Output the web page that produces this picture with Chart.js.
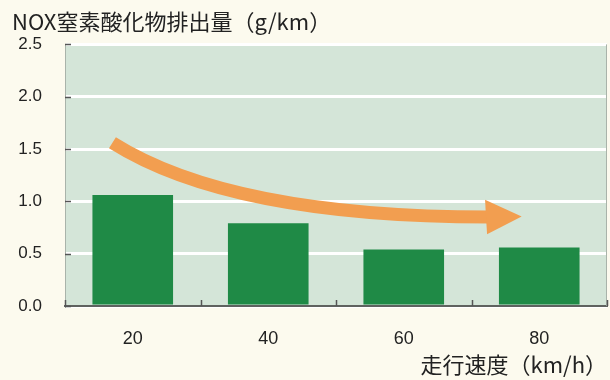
<!DOCTYPE html>
<html>
<head>
<meta charset="utf-8">
<script src="https://cdn.jsdelivr.net/npm/chart.js@4"></script>
<style>
  html, body { margin: 0; padding: 0; background: #fcfaee; }
  #wrap { width: 610px; height: 380px; position: relative; }
</style>
</head>
<body>
<div id="wrap"><canvas id="c"></canvas></div>
<script>
// NOx emission by driving speed
const speeds = ['20', '40', '60', '80'];
const noxEmission = [1.06, 0.79, 0.54, 0.56];
const yTicks = [0, 0.5, 1.0, 1.5, 2.0, 2.5];
const chartTitle = 'NOX窒素酸化物排出量（g/km）';
const speedTitle = '走行速度（km/h）';

// Downward trend arrow, in (category index, value) space
const trendArrow = {
  start: [-0.15, 1.56],
  ctrl: [0.72, 0.85],
  end: [2.60, 0.85],
  tip: [2.87, 0.855],
  headHalf: 0.165
};

const cjkFont = '"Noto Sans CJK JP", "Noto Sans", sans-serif';
const numFont = '"Liberation Sans", Arial, sans-serif';
const textColor = '#222222';

const plotDecor = {
  id: 'plotDecor',
  beforeDraw(chart) {
    const { ctx, chartArea: a } = chart;
    ctx.save();
    ctx.fillStyle = '#d4e5d8';
    ctx.fillRect(a.left, a.top, a.right - a.left, a.bottom - a.top);
    ctx.restore();
  },
  afterDatasetsDraw(chart) {
    const { ctx, chartArea: a, scales: { x, y } } = chart;
    ctx.save();
    // right frame edge
    ctx.strokeStyle = '#a9b3aa';
    ctx.lineWidth = 1;
    ctx.beginPath();
    ctx.moveTo(a.right - 0.5, a.top);
    ctx.lineTo(a.right - 0.5, a.bottom);
    ctx.stroke();
    // inward ticks on the value axis
    ctx.strokeStyle = '#555';
    ctx.lineWidth = 1.5;
    yTicks.forEach(v => {
      const py = Math.round(y.getPixelForValue(v)) + 0.5;
      ctx.beginPath();
      ctx.moveTo(a.left, py);
      ctx.lineTo(a.left + 6, py);
      ctx.stroke();
    });
    // category boundary ticks on the speed axis
    for (let i = 0; i <= speeds.length; i++) {
      const px = Math.round(x.getPixelForValue(i - 0.5)) + 0.5;
      ctx.beginPath();
      ctx.moveTo(px, a.bottom);
      ctx.lineTo(px, a.bottom - 6);
      ctx.stroke();
    }
    // trend arrow
    const P = p => [x.getPixelForValue(p[0]), y.getPixelForValue(p[1])];
    const s = P(trendArrow.start), c = P(trendArrow.ctrl), e = P(trendArrow.end), t = P(trendArrow.tip);
    ctx.strokeStyle = '#f29e50';
    ctx.fillStyle = '#f29e50';
    ctx.lineWidth = 13;
    ctx.lineCap = 'butt';
    ctx.beginPath();
    ctx.moveTo(s[0], s[1]);
    ctx.quadraticCurveTo(c[0], c[1], e[0] + 4, e[1]);
    ctx.stroke();
    const hTop = y.getPixelForValue(trendArrow.end[1] + trendArrow.headHalf);
    const hBot = y.getPixelForValue(trendArrow.end[1] - trendArrow.headHalf);
    ctx.beginPath();
    ctx.moveTo(e[0], hTop);
    ctx.lineTo(t[0], t[1]);
    ctx.lineTo(e[0] + 2, hBot);
    ctx.closePath();
    ctx.fill();
    ctx.restore();
  }
};

new Chart(document.getElementById('c'), {
  type: 'bar',
  data: {
    labels: speeds,
    datasets: [{
      data: noxEmission,
      backgroundColor: '#1f8a46',
      borderWidth: 0,
      barPercentage: 0.595,
      categoryPercentage: 1.0
    }]
  },
  options: {
    responsive: true,
    maintainAspectRatio: false,
    animation: false,
    layout: { padding: { left: 12, right: 3, top: 0, bottom: 0 } },
    plugins: {
      legend: { display: false },
      tooltip: { enabled: false },
      title: {
        display: true,
        text: chartTitle,
        align: 'start',
        color: textColor,
        font: { family: cjkFont, size: 22, weight: 'normal' },
        padding: { top: 8, bottom: 10 }
      }
    },
    scales: {
      x: {
        grid: { display: false },
        border: { display: true, color: '#5f625f', width: 2 },
        ticks: {
          color: textColor,
          font: { family: numFont, size: 18 },
          padding: 14
        },
        title: {
          display: true,
          text: speedTitle,
          align: 'end',
          color: textColor,
          font: { family: cjkFont, size: 22, weight: 'normal' },
          padding: { top: 0, bottom: 2 }
        },
        afterFit(scale) { scale.height = 74; }
      },
      y: {
        min: 0,
        max: 2.5,
        grid: { color: '#ffffff', lineWidth: 3, drawTicks: false },
        border: { display: true, color: '#a9b3aa', width: 1 },
        ticks: {
          color: textColor,
          font: { family: numFont, size: 17 },
          padding: 23,
          callback: v => Number(v).toFixed(1)
        },
        afterBuildTicks(scale) { scale.ticks = yTicks.map(v => ({ value: v })); },
        afterFit(scale) { scale.width = 53; }
      }
    }
  },
  plugins: [plotDecor]
});
</script>
</body>
</html>
